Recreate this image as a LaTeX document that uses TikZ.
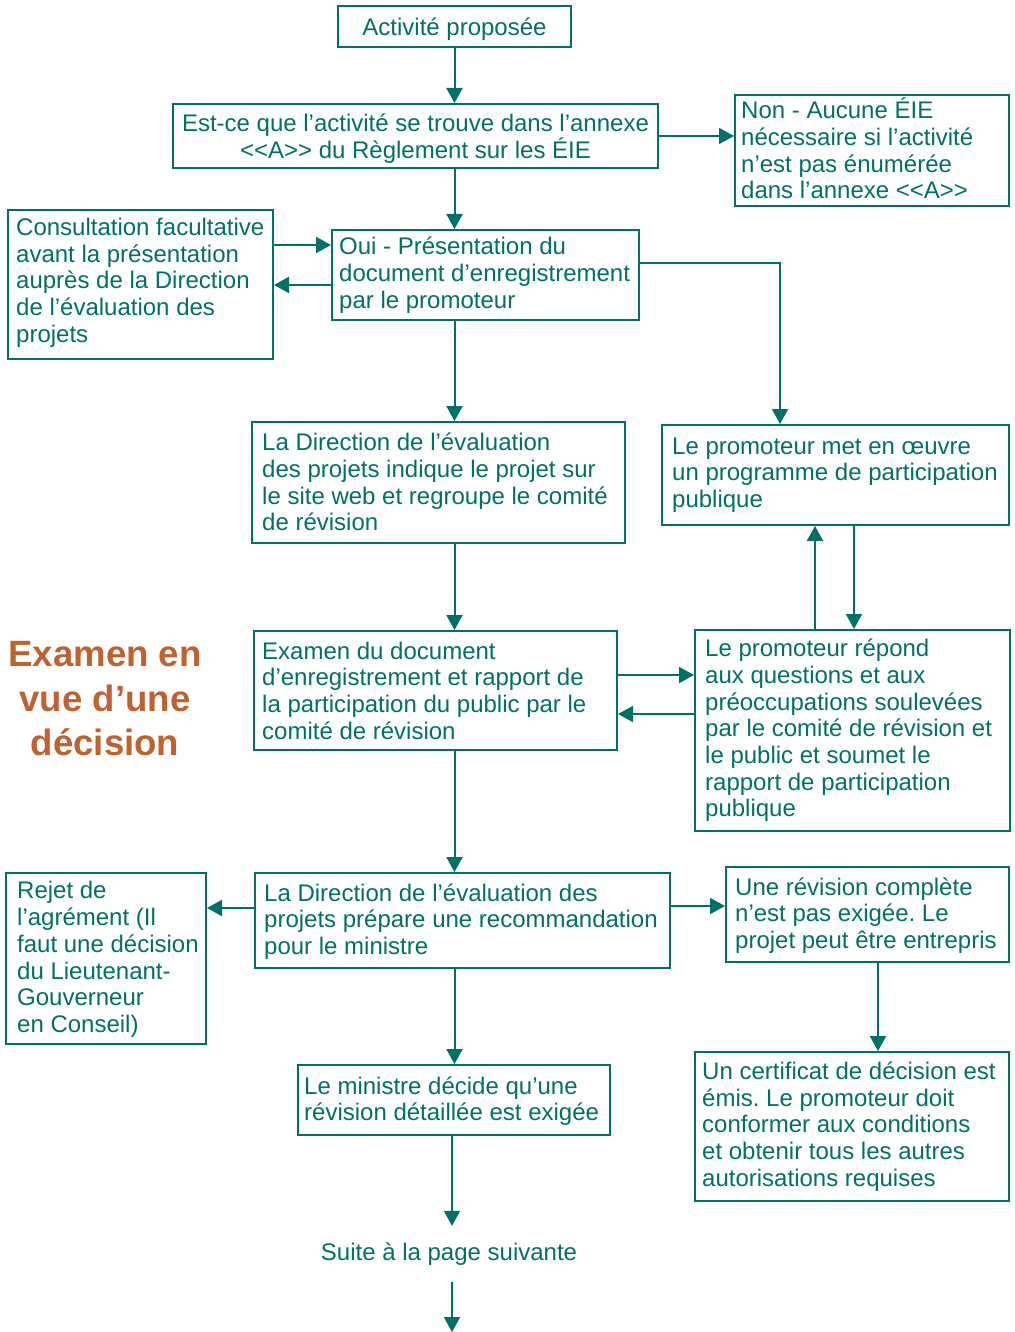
\documentclass[tikz,border=0pt]{standalone}
\usepackage{fontspec}
\setmainfont{Liberation Sans}
\usetikzlibrary{arrows.meta}
\definecolor{tealc}{RGB}{0,112,104}
\definecolor{orangec}{RGB}{192,98,48}
\frenchspacing
\newcommand\mkbox[5]{\node[bx, minimum width={#4-#2}, minimum height={#5-#3}] (#1) at ({(#2+#4)/2},{(#3+#5)/2}) {};}
\begin{document}
\begin{tikzpicture}[x=1pt,y=-1pt,
 bx/.style={draw=tealc, line width=2pt, rectangle, inner sep=0pt},
 tx/.style={text=tealc, font=\fontsize{24}{26.7}\selectfont\frenchspacing, align=left, inner sep=0pt, anchor=west},
 txc/.style={text=tealc, font=\fontsize{24}{26.7}\selectfont\frenchspacing, align=center, inner sep=0pt},
 arr/.style={draw=tealc, line width=2pt, -{Triangle[length=15pt,width=16pt]}},
]
\useasboundingbox (0,0) rectangle (1014,1332);
\mkbox{b1}{338}{6}{571}{47}
\mkbox{b2}{173}{104}{658}{168}
\mkbox{b3}{735}{95}{1009}{206}
\mkbox{b4}{8}{210}{273}{359}
\mkbox{b5}{332}{230}{639}{320}
\mkbox{b6}{252}{422}{625}{543}
\mkbox{b7}{662}{425}{1009}{525}
\mkbox{b8}{254}{631}{617}{750}
\mkbox{b9}{695}{630}{1010}{831}
\mkbox{b10}{255}{873}{670}{968}
\mkbox{b11}{6}{873}{206}{1044}
\mkbox{b12}{726}{867}{1009}{962}
\mkbox{b13}{298}{1065}{610}{1135}
\mkbox{b14}{695}{1052}{1009}{1201}

\node[txc] (t1) at ([yshift=-3pt]b1.center) {Activité proposée};
\node[txc] (t2) at ([yshift=-2.5pt]b2.center) {Est-ce que l’activité se trouve dans l’annexe\\<{}<A>{}> du Règlement sur les ÉIE};
\node[tx] (t3) at ([xshift=7pt,yshift=2pt]b3.west) {Non - Aucune ÉIE\\nécessaire si l’activité\\n’est pas énumérée\\dans l’annexe <{}<A>{}>};
\node[tx] (t4) at ([xshift=9pt,yshift=2pt]b4.west) {Consultation facultative\\avant la présentation\\auprès de la Direction\\de l’évaluation des\\projets};
\node[tx] (t5) at ([xshift=8pt]b5.west) {Oui - Présentation du\\document d’enregistrement\\par le promoteur};
\node[tx] (t6) at ([xshift=11pt,yshift=0.5pt]b6.west) {La Direction de l’évaluation\\des projets indique le projet sur\\le site web et regroupe le comité\\de révision};
\node[tx] (t7) at ([xshift=11pt]b7.west) {Le promoteur met en œuvre\\un programme de participation\\publique};
\node[tx] (t8) at ([xshift=9pt]b8.west) {Examen du document\\d’enregistrement et rapport de\\la participation du public par le\\comité de révision};
\node[tx] (t9) at ([xshift=11pt]b9.west) {Le promoteur répond\\aux questions et aux\\préoccupations soulevées\\par le comité de révision et\\le public et soumet le\\rapport de participation\\publique};
\node[tx] (t10) at ([xshift=10pt,yshift=-1pt]b10.west) {La Direction de l’évaluation des\\projets prépare une recommandation\\pour le ministre};
\node[tx] (t11) at ([xshift=12pt,yshift=-1pt]b11.west) {Rejet de\\l’agrément (Il\\faut une décision\\du Lieutenant-\\Gouverneur\\en Conseil)};
\node[tx] (t12) at ([xshift=10pt,yshift=-1pt]b12.west) {Une révision complète\\n’est pas exigée. Le\\projet peut être entrepris};
\node[tx] (t13) at ([xshift=7pt,yshift=-1pt]b13.west) {Le ministre décide qu’une\\révision détaillée est exigée};
\node[tx] (t14) at ([xshift=8pt]b14.west) {Un certificat de décision est\\émis. Le promoteur doit\\conformer aux conditions\\et obtenir tous les autres\\autorisations requises};

\node[txc, minimum height=56pt] (suite) at (449,1254) {Suite à la page suivante};
\coordinate (endpt) at (452,1332);

\node[text=orangec, font=\fontsize{36.6}{44.5}\selectfont\bfseries, align=center, inner sep=0pt] (head) at (105,699) {Examen en\\vue d’une\\décision};

\draw[arr] (b1.south) -- (b1.south |- b2.north);
\draw[arr] (b2.east) -- (b2.east -| b3.west);
\draw[arr] (b1.south |- b2.south) -- (b1.south |- b5.north);
\draw[arr] ([yshift=39.5pt]b4.east) -- ([yshift=39.5pt]b4.east -| b5.west);
\draw[arr] ([yshift=-10pt]b5.west) -- ([yshift=-10pt]b5.west -| b4.east);
\draw[arr] ([yshift=12pt]b5.east) -| ([xshift=-55.5pt]b7.north);
\draw[arr] (b1.south |- b5.south) -- (b1.south |- b6.north);
\draw[arr] (b1.south |- b6.south) -- (b1.south |- b8.north);
\draw[arr] ([yshift=15.5pt]b8.east) -- ([yshift=15.5pt]b8.east -| b9.west);
\draw[arr] ([yshift=16.5pt]b9.west) -- ([yshift=16.5pt]b9.west -| b8.east);
\draw[arr] ([xshift=-37.5pt]b9.north) -- ([xshift=-37.5pt]b9.north |- b7.south);
\draw[arr] ([xshift=18.5pt]b7.south) -- ([xshift=18.5pt]b7.south |- b9.north);
\draw[arr] (b1.south |- b8.south) -- (b1.south |- b10.north);
\draw[arr] ([yshift=12.5pt]b10.west) -- ([yshift=12.5pt]b10.west -| b11.east);
\draw[arr] ([yshift=14.5pt]b10.east) -- ([yshift=14.5pt]b10.east -| b12.west);
\draw[arr] ([xshift=10.5pt]b12.south) -- ([xshift=10.5pt]b12.south |- b14.north);
\draw[arr] (b1.south |- b10.south) -- (b1.south |- b13.north);
\draw[arr] ([xshift=-2pt]b13.south) -- ([xshift=-2pt]b13.south |- suite.north);
\draw[arr] (endpt |- suite.south) -- (endpt);
\end{tikzpicture}
\end{document}
